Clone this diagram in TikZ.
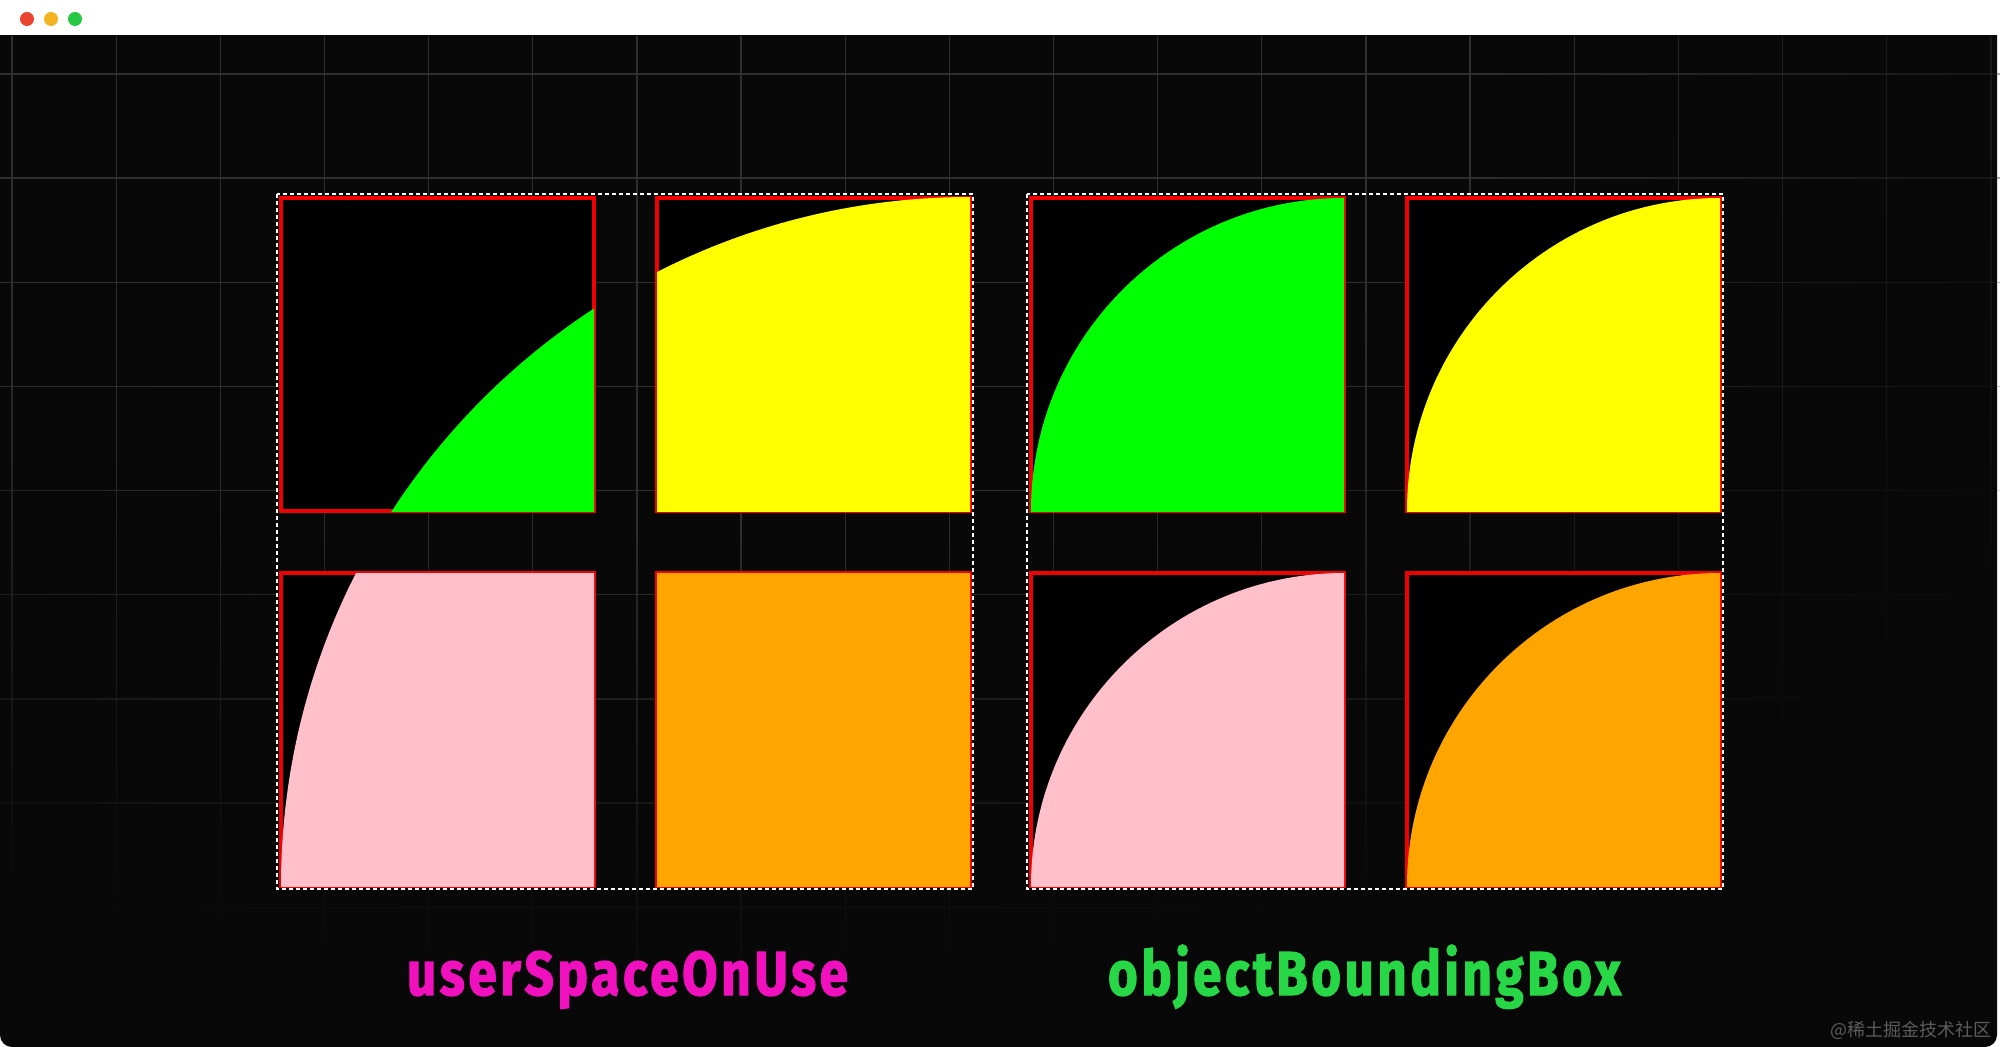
\documentclass[tikz,border=0pt]{standalone}
\usepackage{fontspec}
\setmainfont{Fira Sans}
\newfontfamily\titlefont{Fira Sans}[BoldFont={* Bold}, BoldFeatures={FakeBold=2}, LetterSpace=7]
\newfontfamily\cjk{Noto Sans CJK SC}
\usepackage{graphicx}
\definecolor{bg}{HTML}{080808}
\definecolor{gridc}{HTML}{2E2E2E}
\definecolor{dotred}{HTML}{E9442E}
\definecolor{dotyel}{HTML}{F4B322}
\definecolor{dotgrn}{HTML}{26C941}
\definecolor{sqred}{HTML}{F00000}
\definecolor{fgreen}{HTML}{00FF00}
\definecolor{fyellow}{HTML}{FFFF00}
\definecolor{fpink}{HTML}{FFC0CB}
\definecolor{forange}{HTML}{FFA500}
\definecolor{magtxt}{RGB}{240,16,190}
\definecolor{grntxt}{RGB}{40,215,70}
\definecolor{wmark}{HTML}{5C5C5C}
\tikzset{
  gridline/.style={gridc, line width=0.65pt},
  sqborder/.style={sqred, line width=2pt},
  groupbox/.style={white, line width=0.8pt, dash pattern=on 2pt off 1.5pt},
  title/.style={anchor=base, inner sep=0pt},
}
\newcommand{\sqcell}[4]{% x0, y0, color, circle spec
  \fill[black] (#1,#2) rectangle ++(313,313);
  \draw[sqborder] (#1,#2) rectangle ++(313,313);
  \begin{scope}
    \clip (#1,#2) rectangle ++(313,313);
    \fill[#3] #4;
  \end{scope}
}
\begin{document}
\begin{tikzpicture}[x=0.5pt, y=-0.5pt]
\useasboundingbox (0,0) rectangle (2000,1047);
% frame
\fill[white] (0,0) rectangle (2000,1047);
\begin{scope}
  \clip (0,36) rectangle (2000,1047);
  \fill[bg, rounded corners=6pt] (0,0) rectangle (1997,1047);
\end{scope}
% window dots
\fill[dotred] (27,19) circle [radius=3.5pt];
\fill[dotyel] (51,19) circle [radius=3.5pt];
\fill[dotgrn] (75,19) circle [radius=3.5pt];
% grid (fading)
\foreach \k in {0,...,19}{
  \pgfmathsetmacro\gx{12+104.15*\k}
  \foreach \s in {0,...,39}{
    \pgfmathsetmacro\ya{36+25.275*\s}
    \pgfmathsetmacro\yb{\ya+25.275}
    \pgfmathsetmacro\al{max(0,min(1,2.0*(1-sqrt(((\gx-700)/1600)^2+(((\ya+12.6)-50)/950)^2))))}
    \draw[gridline, opacity=\al] (\gx,\ya) -- (\gx,\yb);
  }
}
\foreach \j in {0,...,9}{
  \pgfmathsetmacro\gy{74+104.15*\j}
  \foreach \s in {0,...,39}{
    \pgfmathsetmacro\xa{50*\s}
    \pgfmathsetmacro\xb{\xa+50}
    \pgfmathsetmacro\al{max(0,min(1,2.0*(1-sqrt((((\xa+25)-700)/1600)^2+((\gy-50)/950)^2))))}
    \draw[gridline, opacity=\al] (\xa,\gy) -- (\xb,\gy);
  }
}
% userSpaceOnUse group: one circle centred at (970,886), radius 689
\sqcell{281}{198}{fgreen}{(970,886) circle [radius=344.5pt]}
\sqcell{657}{198}{fyellow}{(970,886) circle [radius=344.5pt]}
\sqcell{281}{573}{fpink}{(970,886) circle [radius=344.5pt]}
\sqcell{657}{573}{forange}{(970,886) circle [radius=344.5pt]}
\draw[groupbox] (277,194) rectangle (973,889);
% objectBoundingBox group: circle at each square's bottom-right corner
\sqcell{1031}{198}{fgreen}{(1344,511) circle [radius=156.5pt]}
\sqcell{1407}{198}{fyellow}{(1720,511) circle [radius=156.5pt]}
\sqcell{1031}{573}{fpink}{(1344,886) circle [radius=156.5pt]}
\sqcell{1407}{573}{forange}{(1720,886) circle [radius=156.5pt]}
\draw[groupbox] (1027,194) rectangle (1723,889);
% titles
\node[title, text=magtxt] (t1) at (627.5,995) {\resizebox{220.5pt}{\height}{\titlefont\fontsize{31pt}{31pt}\selectfont\bfseries userSpaceOnUse}};
\node[title, text=grntxt] (t2) at (1364.5,995) {\resizebox{256.5pt}{\height}{\titlefont\fontsize{31pt}{31pt}\selectfont\bfseries objectBoundingBox}};
% watermark
\node[anchor=base east, inner sep=0pt, text=wmark] (wm) at (1992,1036) {\cjk\fontsize{9pt}{9pt}\selectfont @稀土掘金技术社区};
\end{tikzpicture}
\end{document}
